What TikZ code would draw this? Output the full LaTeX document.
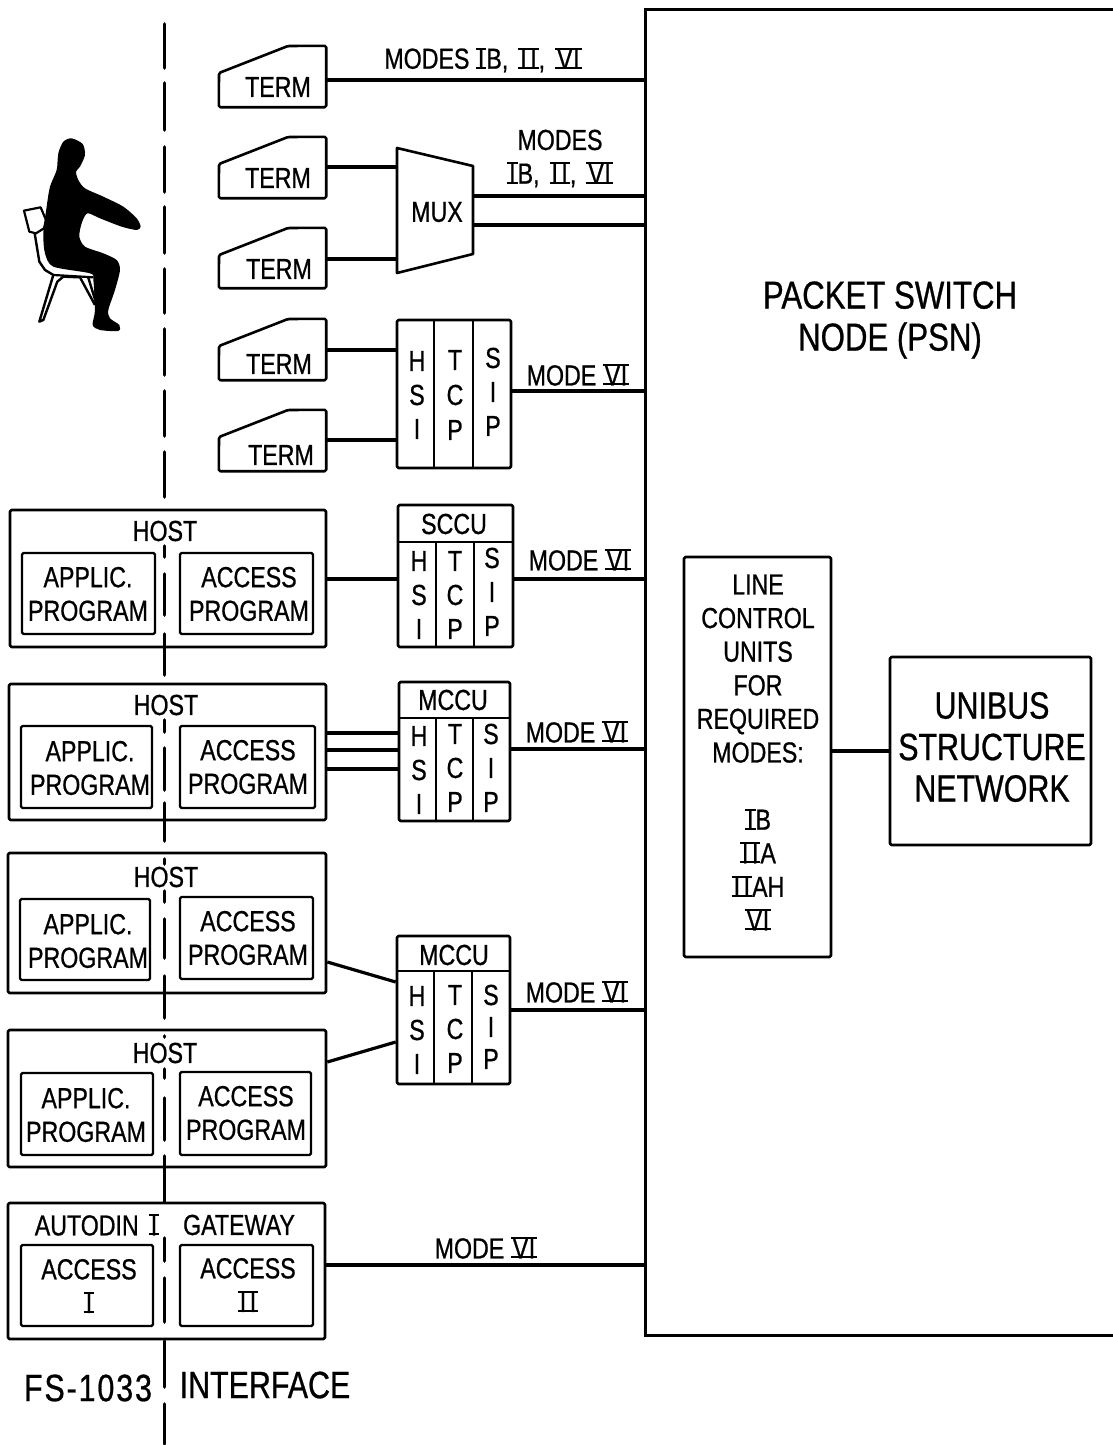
\documentclass[tikz,border=0pt]{standalone}
\usepackage{fontspec}
\setmainfont[FakeStretch=0.8,FakeBold=0.7]{Liberation Sans}
\newcommand{\rmb}[1]{\setbox0=\hbox{#1}\kern0.07em\rlap{\hskip-0.07em\rule[0pt]{\dimexpr\wd0+0.14em}{0.07em}}\rlap{\hskip-0.07em\rule[0.66em]{\dimexpr\wd0+0.14em}{0.07em}}\box0\kern0.07em}
\newcommand{\rI}{\rmb{I}}
\newcommand{\rII}{\rmb{I\kern0.12em I}}
\newcommand{\rVI}{\rmb{V\kern0.02em I}}
\newcommand{\sep}{\hskip0.12em\ }
\tikzset{x=1pt,y=-1pt,
  ln/.style={line width=2.6pt,line join=round},
  thin box/.style={line width=2.2pt,rounded corners=1.5pt},
  conn/.style={line width=3.2pt},
  txt/.style={font=\fontsize{29}{33.6}\selectfont,align=center,inner sep=0pt},
  txtl/.style={font=\fontsize{39}{42}\selectfont,align=center,inner sep=0pt},
  txtm/.style={font=\fontsize{38}{41.5}\selectfont,align=center,inner sep=0pt},
  txtf/.style={font=\fontsize{38}{40}\selectfont,align=center,inner sep=0pt},
  dashseg/.style={line width=3.6pt,line cap=round}
}
% box by corners
\newcommand{\bx}[6][thin box]{\node[draw,#1,inner sep=0pt,minimum width=#4-#2,minimum height=#5-#3] (#6) at ({(#2+#4)/2},{(#3+#5)/2}) {};}
% terminal: name, left, top, right, bottom, text x, text y
\newcommand{\term}[7]{%
  \node[inner sep=0pt,minimum width=#4-#2,minimum height=#5-#3] (#1) at ({(#2+#4)/2},{(#3+#5)/2}) {};
  \draw[ln,rounded corners=1.5pt] (#1.south west) -- (#2,#3+27) -- (#2+69,#3) -- (#1.north east) -- (#1.south east) -- cycle;
  \node[txt] (#1-text) at (#6,#7) {TERM};}
% letter column
\newcommand{\lets}[7]{%
  \node[txt] (#1-a) at (#2,#3) {#5};
  \node[txt] (#1-b) at (#2,#4) {#6};
  \node[txt] (#1-c) at (#2,{2*#4-#3}) {#7};}
\newcommand{\stackunit}[8]{% name x1 y1 x2 y2 headerY div1 div2
  \bx[ln,rounded corners=1.5pt]{#2}{#3}{#4}{#5}{#1}
  \coordinate (#1-h1) at (#7,#6); \coordinate (#1-h2) at (#8,#6);
  \draw[ln] (#1-h1) -- (#7,#5); \draw[ln] (#1-h2) -- (#8,#5);}
\begin{document}
\begin{tikzpicture}
\useasboundingbox (0,0) rectangle (1113,1445);
\fill[white] (0,0) rectangle (1113,1445);

% ---- interface dashed line
\foreach \a/\b in {24/68,83/130,147/192,207/253,269/313,329/375,391/436,452/497,
  546/557,574/615,634/675,720/732,748/790,803/841,859/864,891/902,919/958,976/1018,
  1036/1037,1069/1078,1098/1140,1156/1202,1238/1261,1278/1322,1341/1387,1404/1444}
  \draw[dashseg] (164.5,\a) -- (164.5,\b);

% ---- packet switch node
\coordinate (psn) at (645,10);
\coordinate (psnb) at (645,1335);
\draw[line width=3pt] (1113,10) -- (psn) -- (psnb) -- (1113,1335);
\node[txtl] (psnlabel) at (890,320) {PACKET SWITCH\\NODE (PSN)};

% ---- terminals
\term{t1}{219}{46}{326}{107}{278}{87}
\term{t2}{219}{137}{326}{198}{278}{178}
\term{t3}{219}{228}{326}{288}{279}{269}
\term{t4}{219}{319}{326}{380}{279}{364}
\term{t5}{219}{410}{326}{471}{281}{455}
\coordinate (c1) at (326,80);
\draw[conn] (c1) -- (c1 -| psn);
\node[txt] (l1) at (483,60) {MODES \rI B,\sep\rII,\sep\rVI};

% ---- mux
\node[inner sep=0pt] (mux) at (437,212) {};
\coordinate (m1) at (397,148); \coordinate (m2) at (473,166);
\coordinate (m3) at (473,254); \coordinate (m4) at (397,273);
\draw[ln] (m1) -- (m2) -- (m3) -- (m4) -- cycle;
\node[txt] (muxlabel) at (437,212) {MUX};
\coordinate (c2) at (326,167); \coordinate (c3) at (326,259);
\draw[conn] (c2) -- (c2 -| m1);
\draw[conn] (c3) -- (c3 -| m1);
\coordinate (c4) at (473,196); \coordinate (c5) at (473,225);
\draw[conn] (c4) -- (c4 -| psn);
\draw[conn] (c5) -- (c5 -| psn);
\node[txt] (l2) at (560,158.5) {MODES\\\rI B,\sep\rII,\sep\rVI};

% ---- HSI/TCP/SIP (no header)
\stackunit{s1}{397}{320}{511}{468}{320}{434}{473}
\lets{s1h}{417}{361}{395}{H}{S}{I}
\lets{s1t}{455}{360}{395}{T}{C}{P}
\lets{s1s}{493}{358}{392}{S}{I}{P}
\coordinate (c6) at (326,350); \coordinate (c7) at (326,440); \coordinate (c8) at (511,391);
\draw[conn] (c6) -- (c6 -| s1.west);
\draw[conn] (c7) -- (c7 -| s1.west);
\draw[conn] (c8) -- (c8 -| psn);
\node[txt] (l3) at (578,375) {MODE \rVI};

% ---- SCCU
\stackunit{s2}{398}{505}{513}{647}{542}{436}{474}
\draw[ln] (398,542) -- (513,542);
\node[txt] (s2n) at (454,524) {SCCU};
\lets{s2h}{419}{561}{595}{H}{S}{I}
\lets{s2t}{455}{561}{595}{T}{C}{P}
\lets{s2s}{492}{558}{592}{S}{I}{P}
\coordinate (c9) at (513,579);
\draw[conn] (c9) -- (c9 -| psn);
\node[txt] (l4) at (580,560) {MODE \rVI};

% ---- MCCU 1
\stackunit{s3}{399}{682}{510}{821}{718}{436}{473}
\draw[ln] (399,718) -- (510,718);
\node[txt] (s3n) at (453,700) {MCCU};
\lets{s3h}{419}{736}{770}{H}{S}{I}
\lets{s3t}{455}{734}{768}{T}{C}{P}
\lets{s3s}{491}{734}{768}{S}{I}{P}
\coordinate (c10) at (510,749);
\draw[conn] (c10) -- (c10 -| psn);
\node[txt] (l5) at (577,732) {MODE \rVI};

% ---- MCCU 2
\stackunit{s4}{397}{936}{510}{1084}{971}{434}{472}
\draw[ln] (397,971) -- (510,971);
\node[txt] (s4n) at (454,955) {MCCU};
\lets{s4h}{417}{996}{1030}{H}{S}{I}
\lets{s4t}{455}{995}{1029}{T}{C}{P}
\lets{s4s}{491}{995}{1027}{S}{I}{P}
\coordinate (c11) at (510,1010);
\draw[conn] (c11) -- (c11 -| psn);
\node[txt] (l6) at (577,992) {MODE \rVI};

% ---- Host 1
\bx[ln,rounded corners=1.5pt]{10}{510}{326}{647}{h1}
\bx{22}{553}{155}{634}{h1a}
\bx{180}{553}{313}{634}{h1b}
\node[txt] (h1n) at (165,531) {HOST};
\node[txt] (h1at) at (88,594) {APPLIC.\\PROGRAM};
\node[txt] (h1bt) at (249,594) {ACCESS\\PROGRAM};
\draw[conn] (h1.east |- c9) -- (s2.west |- c9);

% ---- Host 2
\bx[ln,rounded corners=1.5pt]{9}{684}{326}{820}{h2}
\bx{21}{726}{152}{808}{h2a}
\bx{180}{726}{315}{808}{h2b}
\node[txt] (h2n) at (166,705) {HOST};
\node[txt] (h2at) at (90,768) {APPLIC.\\PROGRAM};
\node[txt] (h2bt) at (248,767) {ACCESS\\PROGRAM};
\foreach \yy in {733,750,769}
  \draw[conn] (h2.east |- 0,\yy) -- (s3.west |- 0,\yy);

% ---- Host 3
\bx[ln,rounded corners=1.5pt]{8}{853}{326}{993}{h3}
\bx{20}{899}{150}{980}{h3a}
\bx{180}{897}{313}{979}{h3b}
\node[txt] (h3n) at (166,877) {HOST};
\node[txt] (h3at) at (88,941) {APPLIC.\\PROGRAM};
\node[txt] (h3bt) at (248,938) {ACCESS\\PROGRAM};
\draw[conn] (h3.east |- 0,962) -- (s4.west |- 0,982);

% ---- Host 4
\bx[ln,rounded corners=1.5pt]{8}{1030}{326}{1167}{h4}
\bx{21}{1073}{153}{1155}{h4a}
\bx{180}{1072}{311}{1155}{h4b}
\node[txt] (h4n) at (165,1053) {HOST};
\node[txt] (h4at) at (86,1115) {APPLIC.\\PROGRAM};
\node[txt] (h4bt) at (246,1113) {ACCESS\\PROGRAM};
\draw[conn] (h4.east |- 0,1062) -- (s4.west |- 0,1042);

% ---- Gateway
\bx[ln,rounded corners=1.5pt]{8}{1203}{325}{1339}{g}
\bx{21}{1245}{153}{1326}{ga}
\bx{180}{1245}{313}{1326}{gb}
\node[txt] (gn1) at (97,1225) {AUTODIN\sep\rI};
\node[txt] (gn2) at (239,1225) {GATEWAY};
\node[txt] (gat) at (89,1286) {ACCESS\\\rI};
\node[txt] (gbt) at (248,1285) {ACCESS\\\rII};
\coordinate (c13) at (325,1265);
\draw[conn] (c13) -- (c13 -| psn);
\node[txt] (l7) at (486,1248) {MODE \rVI};

% ---- Line control units and Unibus
\bx[ln,rounded corners=1.5pt]{684}{557}{831}{957}{lcu}
\node[txt] (lcut) at (758,752.5) {LINE\\CONTROL\\UNITS\\FOR\\REQUIRED\\MODES:\\[33.6pt]\rI B\\\rII A\\\rII AH\\\rVI};
\bx[ln,rounded corners=1.5pt]{890}{657}{1091}{845}{uni}
\node[txtm] (unit) at (992,747) {UNIBUS\\STRUCTURE\\NETWORK};
\draw[conn] (lcu.east |- uni.west) -- (uni.west);

% ---- footer
\node[txtf] (fs) at (88,1388) {\addfontfeatures{LetterSpace=5}FS-1033};
\node[txtf] (ifc) at (265,1385) {INTERFACE};

% ---- person
\begin{scope}[shift={(0,120)},x=0.3333pt,y=-0.3333pt]
 \draw[line width=2.2pt,line join=round] (72,272) -- (122,262) -- (138,300) -- (132,325) -- (108,340) -- (88,335) -- cycle;
 \draw[line width=2.4pt,line join=round] (104,340) -- (118,425) -- (135,450) -- (160,465) -- (118,605) -- (130,600) -- (172,485) -- (190,470) -- (240,472) -- (285,555);
 \draw[line width=2.4pt] (264,470) -- (288,548) (290,470) -- (287,530);
 \draw[line width=2.2pt] (160,465) -- (280,472);
 \fill[black] plot[smooth cycle,tension=0.45] coordinates {(215,55) (248,72) (255,105) (240,140) (228,155) (235,180) (255,205) (310,230) (370,260) (410,295) (422,320) (410,330) (365,320) (300,295) (262,280) (245,310) (238,350) (255,380) (310,400) (350,420) (360,450) (345,510) (325,570) (330,595) (358,615) (355,633) (300,630) (278,615) (285,570) (280,480) (270,460) (160,440) (135,400) (130,340) (140,260) (150,200) (170,150) (175,100) (190,65)};
\end{scope}
\end{tikzpicture}
\end{document}
